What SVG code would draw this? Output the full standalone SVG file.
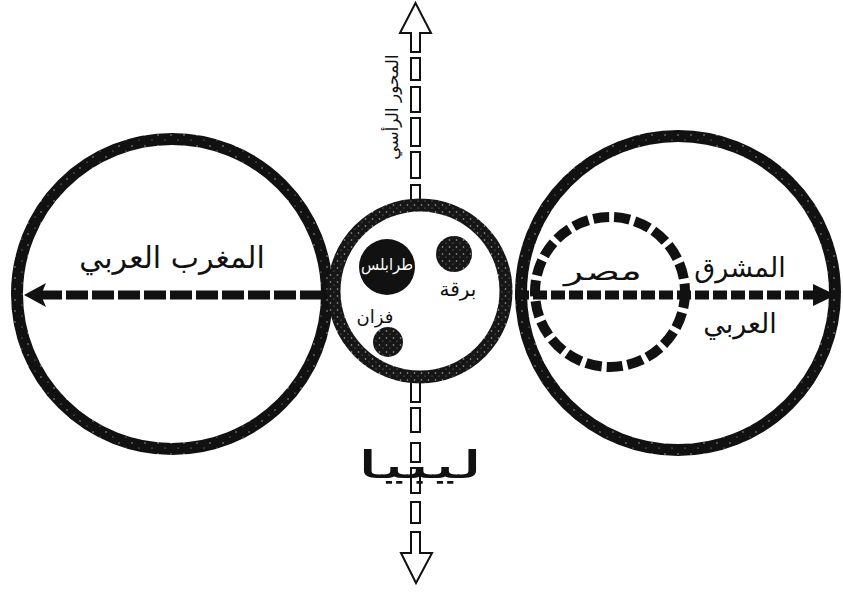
<svg xmlns="http://www.w3.org/2000/svg" width="843" height="592" viewBox="0 0 843 592">
<style>
.lbl{font-family:"DejaVu Sans","Noto Sans",sans-serif;fill:#111;text-anchor:middle}
.ring{fill:none;stroke:url(#speck)}
.shaft{fill:#fff;stroke:#111;stroke-width:2}
.hdash{stroke:#111;stroke-width:9}
</style>
<defs>
<pattern id="speck" patternUnits="userSpaceOnUse" width="13" height="11">
<rect width="13" height="11" fill="#111"/>
<circle cx="2" cy="3" r="0.7" fill="#bbb"/>
<circle cx="9" cy="8" r="0.6" fill="#aaa"/>
</pattern>
<pattern id="speck2" patternUnits="userSpaceOnUse" width="7" height="7">
<rect width="7" height="7" fill="#161616"/>
<circle cx="1.5" cy="2" r="0.8" fill="#aaa"/>
<circle cx="5" cy="5" r="0.6" fill="#888"/>
</pattern>
</defs>

<g id="maghreb">
<circle class="ring" cx="172" cy="294" r="155" stroke-width="12"/>
<text class="lbl" x="172" y="268" font-size="30">المغرب العربي</text>
</g>

<g id="mashreq">
<circle class="ring" cx="678" cy="293" r="157" stroke-width="12"/>
<text class="lbl" x="740" y="277" font-size="27">المشرق</text>
<text class="lbl" x="740" y="333" font-size="27">العربي</text>
</g>

<g id="misr">
<circle cx="610" cy="292" r="75" fill="none" stroke="#111" stroke-width="10" stroke-dasharray="16 5"/>
<text class="lbl" x="603" y="280" font-size="26" textLength="78" lengthAdjust="spacingAndGlyphs">مصر</text>
</g>

<g id="connectors">
<g id="horizontal-axis">
<line class="hdash" x1="40" y1="295" x2="325" y2="295" stroke-dasharray="22 4"/>
<polygon points="24,295 46,283 41,295 46,307" fill="#111"/>
<line class="hdash" x1="515" y1="295" x2="815" y2="295" stroke-dasharray="14 4"/>
<polygon points="836,295 813,284 813,306" fill="#111"/>
</g>
<g id="vertical-axis">
<polygon class="shaft" points="415.5,3 431,33 420,33 420,52 411,52 411,33 400,33"/>
<rect class="shaft" x="411" y="58" width="9" height="22"/>
<rect class="shaft" x="411" y="87" width="9" height="25"/>
<rect class="shaft" x="411" y="118" width="9" height="28"/>
<rect class="shaft" x="411" y="152" width="9" height="26"/>
<rect class="shaft" x="411" y="185" width="9" height="20"/>
<rect class="shaft" x="411" y="378" width="9" height="24"/>
<rect class="shaft" x="411" y="408" width="9" height="24"/>
<rect class="shaft" x="411" y="443" width="9" height="19"/>
<rect class="shaft" x="411" y="468" width="9" height="25"/>
<rect class="shaft" x="411" y="502" width="9" height="21"/>
<polygon class="shaft" points="411,532 420,532 420,553 432,553 416,583 401,553 411,553"/>
</g>
</g>

<g id="libya">
<circle cx="420" cy="291" r="86" fill="#fff" stroke="url(#speck2)" stroke-width="13"/>
<text class="lbl" x="420" y="478" font-size="38" textLength="128" lengthAdjust="spacingAndGlyphs">ليبيا</text>
</g>

<g id="tripoli">
<circle cx="387" cy="267" r="28" fill="#111"/>
<text class="lbl" x="387" y="270" font-size="16" textLength="52" lengthAdjust="spacingAndGlyphs" style="fill:#fff">طرابلس</text>
</g>

<g id="barqa">
<circle cx="454" cy="254" r="18" fill="url(#speck2)"/>
<text class="lbl" x="458" y="296" font-size="20">برقة</text>
</g>

<g id="fezzan">
<circle cx="388" cy="342" r="15" fill="url(#speck2)"/>
<text class="lbl" x="375" y="323" font-size="18">فزان</text>
</g>

<g id="vertical-label">
<text class="lbl" transform="translate(398 107) rotate(-90)" font-size="17">المحور الرأسي</text>
</g>
</svg>
